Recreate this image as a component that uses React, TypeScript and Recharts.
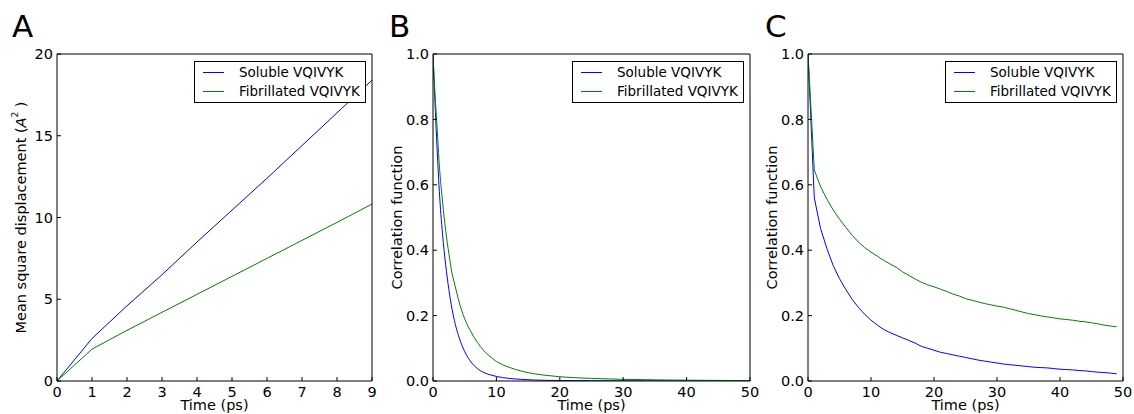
import React from 'react';
import { LineChart, Line, XAxis, YAxis, Legend, Label } from 'recharts';

const W = 1134;
const H = 414;
const FONT = '"DejaVu Sans", "Liberation Sans", sans-serif';

const seriesNames = ['Soluble VQIVYK', 'Fibrillated VQIVYK'];
const seriesColors = ['#0000ff', '#008000'];
const panelLetters = ['A', 'B', 'C'];

// A: mean square displacement
const msdTime = [0, 1, 2, 3, 4, 5, 6, 7, 8, 9];
const msdSoluble = [0, 2.6, 4.6, 6.5, 8.5, 10.45, 12.4, 14.4, 16.4, 18.4];
const msdFibrillated = [0, 1.95, 3.1, 4.2, 5.3, 6.4, 7.5, 8.6, 9.7, 10.82];
const msdXTicks = [0, 1, 2, 3, 4, 5, 6, 7, 8, 9];
const msdYTicks = [0, 5, 10, 15, 20];

// B: fast correlation decay
const fastTime = [0, 0.25, 0.5, 0.75, 1, 1.5, 2, 2.5, 3, 3.5, 4, 5, 6, 7, 8, 9, 10, 12, 14, 16, 18, 20, 25, 30, 35, 40, 45, 50];
const fastSoluble = [1, 0.88, 0.77, 0.67, 0.58, 0.45, 0.355, 0.28, 0.22, 0.175, 0.14, 0.09, 0.058, 0.038, 0.026, 0.019, 0.014, 0.008, 0.005, 0.003, 0.002, 0.0015, 0.0008, 0.0004, 0.0003, 0.0002, 0.0001, 0.0001];
const fastFibrillated = [1, 0.9, 0.82, 0.74, 0.66, 0.55, 0.46, 0.39, 0.33, 0.29, 0.25, 0.19, 0.15, 0.118, 0.093, 0.075, 0.06, 0.042, 0.03, 0.022, 0.017, 0.013, 0.008, 0.005, 0.0035, 0.0025, 0.0018, 0.0012];

// C: slow correlation decay
const slowTime = [0, 1, 2, 3, 4, 5, 6, 7, 8, 9, 10, 11, 12, 13, 14, 15, 16, 17, 18, 19, 20, 21, 22, 23, 24, 25, 26, 27, 28, 29, 30, 31, 32, 33, 34, 35, 36, 37, 38, 39, 40, 41, 42, 43, 44, 45, 46, 47, 48, 49];
const slowSoluble = [1.0, 0.56, 0.466, 0.405, 0.353, 0.313, 0.28, 0.25, 0.225, 0.204, 0.186, 0.171, 0.158, 0.148, 0.14, 0.132, 0.124, 0.116, 0.106, 0.1, 0.094, 0.088, 0.084, 0.08, 0.076, 0.072, 0.068, 0.064, 0.061, 0.058, 0.055, 0.052, 0.05, 0.048, 0.046, 0.044, 0.042, 0.041, 0.04, 0.038, 0.036, 0.035, 0.034, 0.032, 0.031, 0.029, 0.027, 0.026, 0.024, 0.022];
const slowFibrillated = [1.0, 0.645, 0.594, 0.556, 0.523, 0.495, 0.47, 0.446, 0.425, 0.408, 0.394, 0.382, 0.369, 0.358, 0.348, 0.334, 0.323, 0.312, 0.302, 0.294, 0.288, 0.281, 0.274, 0.266, 0.26, 0.252, 0.247, 0.242, 0.237, 0.233, 0.229, 0.226, 0.221, 0.216, 0.211, 0.206, 0.203, 0.199, 0.196, 0.193, 0.19, 0.188, 0.186, 0.183, 0.181, 0.178, 0.175, 0.171, 0.168, 0.166];

const corrXTicks = [0, 10, 20, 30, 40, 50];
const corrYTicks = [0, 0.2, 0.4, 0.6, 0.8, 1.0];

const toRows = (t: number[], a: number[], b: number[]) =>
  t.map((x, i) => ({ t: x, s0: a[i], s1: b[i] }));

const tickStyle = { fontSize: 14.5, fill: '#000', fontFamily: FONT };

const LegendBox = () => (
  <div
    style={{
      position: 'relative',
      width: 172,
      height: 42,
      boxSizing: 'border-box',
      border: '1px solid #000',
      background: '#fff',
      fontFamily: FONT,
      fontSize: 13.5,
      color: '#000',
    }}
  >
    {seriesNames.map((name, i) => (
      <div key={name} style={{ position: 'absolute', left: 0, top: 1 + i * 19, height: 19, width: '100%' }}>
        <span
          style={{ position: 'absolute', left: 8, top: 9, width: 21, borderTop: `1px solid ${seriesColors[i]}` }}
        />
        <span style={{ position: 'absolute', left: 44, top: 1, lineHeight: '17px', whiteSpace: 'nowrap' }}>{name}</span>
      </div>
    ))}
  </div>
);

type PanelProps = {
  rows: { t: number; s0: number; s1: number }[];
  left: number;
  axisWidth: number;
  plotRight: number;
  xTicks: number[];
  yTicks: number[];
  yFormat?: (v: number) => string;
  yTitle: React.ReactNode;
  curve: 'linear' | 'monotone';
};

const Panel = ({ rows, left, axisWidth, plotRight, xTicks, yTicks, yFormat, yTitle, curve }: PanelProps) => {
  const xDomain = [xTicks[0], xTicks[xTicks.length - 1]];
  const yDomain = [yTicks[0], yTicks[yTicks.length - 1]];
  // right/top frame axes take 1px each
  const right = W - plotRight - 1;
  return (
    <div style={{ position: 'absolute', left: 0, top: 0 }}>
      <LineChart width={W} height={H} data={rows} margin={{ top: 53, right, bottom: 0, left }}>
        <XAxis
          dataKey="t"
          type="number"
          domain={xDomain}
          ticks={xTicks}
          interval={0}
          height={33}
          tickSize={-4}
          tickMargin={10}
          tick={tickStyle}
          axisLine={{ stroke: '#000' }}
          tickLine={{ stroke: '#000' }}
          allowDataOverflow
        >
          <Label
            content={({ viewBox }: any) => (
              <text
                x={viewBox.x + viewBox.width / 2}
                y={viewBox.y + 29}
                textAnchor="middle"
                fontSize={14.5}
                fontFamily={FONT}
                fill="#000"
              >
                Time (ps)
              </text>
            )}
          />
        </XAxis>
        <XAxis
          xAxisId="top"
          orientation="top"
          dataKey="t"
          type="number"
          domain={xDomain}
          ticks={xTicks}
          interval={0}
          height={1}
          tickSize={-4}
          tick={false}
          axisLine={{ stroke: '#000' }}
          tickLine={{ stroke: '#000' }}
          allowDataOverflow
        />
        <YAxis
          type="number"
          domain={yDomain}
          ticks={yTicks}
          interval={0}
          width={axisWidth}
          tickSize={-4}
          tickMargin={8}
          tick={tickStyle}
          tickFormatter={yFormat}
          axisLine={{ stroke: '#000' }}
          tickLine={{ stroke: '#000' }}
          allowDataOverflow
        >
          <Label
            content={({ viewBox }: any) => {
              const cx = viewBox.x + viewBox.width - 36;
              const cy = viewBox.y + viewBox.height / 2;
              return (
                <text
                  x={cx}
                  y={cy}
                  transform={`rotate(-90 ${cx} ${cy})`}
                  textAnchor="middle"
                  dominantBaseline="central"
                  fontSize={14.5}
                  fontFamily={FONT}
                  fill="#000"
                >
                  {yTitle}
                </text>
              );
            }}
          />
        </YAxis>
        <YAxis
          yAxisId="right"
          orientation="right"
          type="number"
          domain={yDomain}
          ticks={yTicks}
          interval={0}
          width={1}
          tickSize={-4}
          tick={false}
          axisLine={{ stroke: '#000' }}
          tickLine={{ stroke: '#000' }}
          allowDataOverflow
        />
        <Line type={curve} dataKey="s0" name={seriesNames[0]} stroke={seriesColors[0]} strokeWidth={1} dot={false} isAnimationActive={false} />
        <Line type={curve} dataKey="s1" name={seriesNames[1]} stroke={seriesColors[1]} strokeWidth={1} dot={false} isAnimationActive={false} />
        <Legend
          layout="vertical"
          align="center"
          verticalAlign="middle"
          content={() => <LegendBox />}
          wrapperStyle={{ left: plotRight - 178, top: 61, width: 172, height: 42 }}
        />
      </LineChart>
    </div>
  );
};

const msdTitle = (
  <>
    Mean square displacement (<tspan fontStyle="italic">A</tspan>
    <tspan dy={-6} fontSize={9}>2</tspan>
    <tspan dy={6}> )</tspan>
  </>
);

export default function App() {
  const fmt1 = (v: number) => v.toFixed(1);
  return (
    <div style={{ position: 'absolute', left: 0, top: 0, width: W, height: H, background: '#fff', fontFamily: FONT }}>
      <Panel
        rows={toRows(msdTime, msdSoluble, msdFibrillated)}
        left={0}
        axisWidth={57}
        plotRight={372}
        xTicks={msdXTicks}
        yTicks={msdYTicks}
        yTitle={msdTitle}
        curve="linear"
      />
      <Panel
        rows={toRows(fastTime, fastSoluble, fastFibrillated)}
        left={380}
        axisWidth={53}
        plotRight={750}
        xTicks={corrXTicks}
        yTicks={corrYTicks}
        yFormat={fmt1}
        yTitle="Correlation function"
        curve="monotone"
      />
      <Panel
        rows={toRows(slowTime, slowSoluble, slowFibrillated)}
        left={755}
        axisWidth={53}
        plotRight={1123}
        xTicks={corrXTicks}
        yTicks={corrYTicks}
        yFormat={fmt1}
        yTitle="Correlation function"
        curve="linear"
      />
      <svg width={W} height={H} style={{ position: 'absolute', left: 0, top: 0, pointerEvents: 'none' }}>
        {panelLetters.map((letter, i) => (
          <text key={letter} x={[12, 389, 765][i]} y={37} fontSize={31} fontFamily={FONT} fill="#000">
            {letter}
          </text>
        ))}
      </svg>
    </div>
  );
}
